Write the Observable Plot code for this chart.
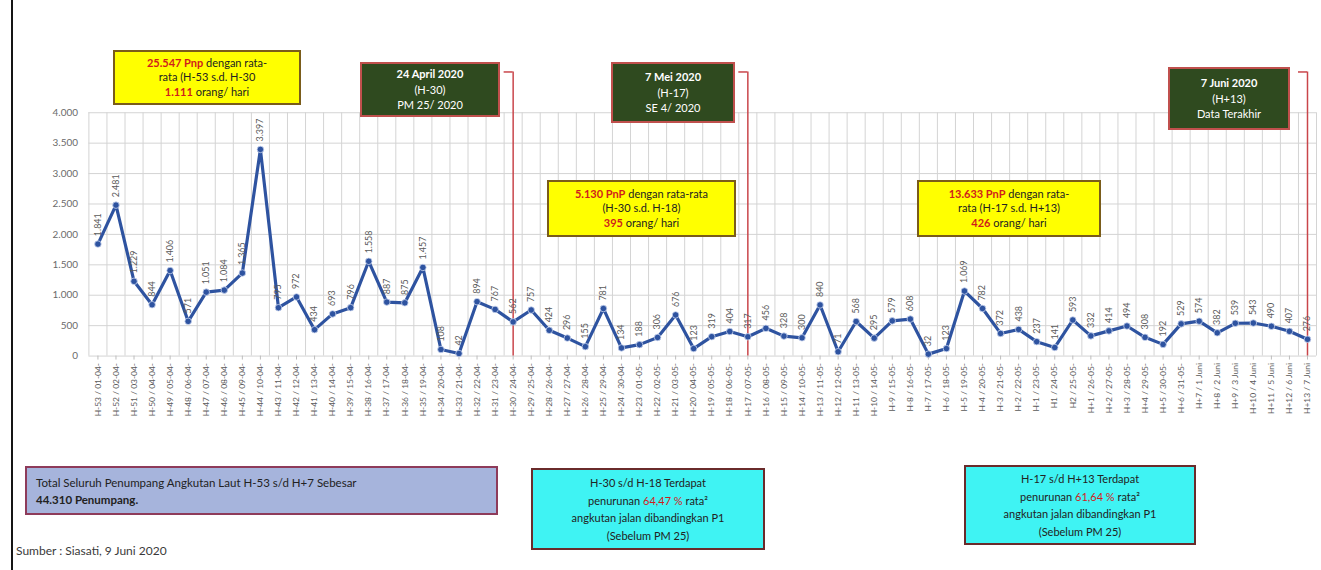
<!DOCTYPE html>
<html>
<head>
<meta charset="utf-8">
<script src="https://cdn.jsdelivr.net/npm/d3@7"></script>
<script src="https://cdn.jsdelivr.net/npm/@observablehq/plot@0.6"></script>
<style>
  html, body { margin: 0; padding: 0; background: #fff; overflow: hidden; }
  #wrap { position: relative; width: 1321px; height: 570px; overflow: hidden; font-family: Lato, "Open Sans", sans-serif; }
  #chart { position: absolute; left: 0; top: 0; }
  .box { position: absolute; box-sizing: border-box; display: flex; flex-direction: column; justify-content: center; align-items: center; text-align: center; }
  .yellow { background: #ffff00; border: 2px solid #7a5c1a; color: #222; font-size: 11px; line-height: 14.5px; }
  .green { background: #2f4a1f; border: 2px solid #c0504d; color: #fff; font-size: 11px; line-height: 15.5px; }
  .cyan { background: #3ff3f3; border: 2px solid #6a2b2b; color: #222; font-size: 11px; line-height: 17.5px; }
  .slate { background: #a6b4dc; border: 2px solid #8e3b5a; color: #222; font-size: 11.5px; line-height: 17px; align-items: flex-start; text-align: left; padding-left: 9px; }
  .red { color: #d01c1c; font-weight: bold; }
  b { font-weight: bold; }
</style>
</head>
<body>
<div id="wrap">
  <div id="chart"></div>
  <div style="position:absolute;left:11px;top:0;width:2px;height:570px;background:#151515"></div>

  <div class="box yellow" style="left:113px;top:50px;width:188px;height:55px">
    <div><span class="red">25.547 Pnp</span> dengan rata-</div>
    <div>rata (H-53 s.d. H-30</div>
    <div><span class="red">1.111</span> orang/ hari</div>
  </div>

  <div class="box green" style="left:360px;top:62px;width:140px;height:55px">
    <div><b>24 April 2020</b></div><div>(H-30)</div><div>PM 25/ 2020</div>
  </div>
  <div class="box green" style="left:611px;top:62px;width:124px;height:61px">
    <div><b>7 Mei 2020</b></div><div>(H-17)</div><div>SE 4/ 2020</div>
  </div>
  <div class="box green" style="left:1168px;top:67px;width:122px;height:63px">
    <div><b>7 Juni 2020</b></div><div>(H+13)</div><div>Data Terakhir</div>
  </div>

  <div class="box yellow" style="left:547px;top:180px;width:189px;height:57px">
    <div><span class="red">5.130 PnP</span> dengan rata-rata</div>
    <div>(H-30 s.d. H-18)</div>
    <div><span class="red">395</span> orang/ hari</div>
  </div>
  <div class="box yellow" style="left:917px;top:180px;width:184px;height:57px">
    <div><span class="red">13.633 PnP</span> dengan rata-</div>
    <div>rata (H-17 s.d. H+13)</div>
    <div><span class="red">426</span> orang/ hari</div>
  </div>

  <div class="box slate" style="left:25px;top:466px;width:473px;height:49px">
    <div>Total Seluruh Penumpang Angkutan Laut H-53 s/d H+7 Sebesar</div>
    <div><b>44.310 Penumpang.</b></div>
  </div>

  <div class="box cyan" style="left:531px;top:468px;width:234px;height:82px">
    <div>H-30 s/d H-18 Terdapat</div>
    <div>penurunan <span class="red" style="font-weight:normal">64,47 %</span> rata²</div>
    <div>angkutan jalan dibandingkan P1</div>
    <div>(Sebelum PM 25)</div>
  </div>
  <div class="box cyan" style="left:964px;top:465px;width:232px;height:80px">
    <div>H-17 s/d H+13 Terdapat</div>
    <div>penurunan <span class="red" style="font-weight:normal">61,64 %</span> rata²</div>
    <div>angkutan jalan dibandingkan P1</div>
    <div>(Sebelum PM 25)</div>
  </div>

  <div style="position:absolute;left:16px;top:543px;font-size:12px;color:#3a3a3a">Sumber : Siasati, 9 Juni 2020</div>
</div>

<script>
// ---- data ----
const dayLabels = [
  "H-53 / 01-04-", "H-52 / 02-04-", "H-51 / 03-04-", "H-50 / 04-04-", "H-49 / 05-04-",
  "H-48 / 06-04-", "H-47 / 07-04-", "H-46 / 08-04-", "H-45 / 09-04-", "H-44 / 10-04-",
  "H-43 / 11-04-", "H-42 / 12-04-", "H-41 / 13-04-", "H-40 / 14-04-", "H-39 / 15-04-",
  "H-38 / 16-04-", "H-37 / 17-04-", "H-36 / 18-04-", "H-35 / 19-04-", "H-34 / 20-04-",
  "H-33 / 21-04-", "H-32 / 22-04-", "H-31 / 23-04-", "H-30 / 24-04-", "H-29 / 25-04-",
  "H-28 / 26-04-", "H-27 / 27-04-", "H-26 / 28-04-", "H-25 / 29-04-", "H-24 / 30-04-",
  "H-23 / 01-05-", "H-22 / 02-05-", "H-21 / 03-05-", "H-20 / 04-05-", "H-19 / 05-05-",
  "H-18 / 06-05-", "H-17 / 07-05-", "H-16 / 08-05-", "H-15 / 09-05-", "H-14 / 10-05-",
  "H-13 / 11-05-", "H-12 / 12-05-", "H-11 / 13-05-", "H-10 / 14-05-", "H-9 / 15-05-",
  "H-8 / 16-05-", "H-7 / 17-05-", "H-6 / 18-05-", "H-5 / 19-05-", "H-4 / 20-05-",
  "H-3 / 21-05-", "H-2 / 22-05-", "H-1 / 23-05-", "H1 / 24-05-", "H2 / 25-05-",
  "H+1 / 26-05-", "H+2 / 27-05-", "H+3 / 28-05-", "H+4 / 29-05-", "H+5 / 30-05-",
  "H+6 / 31-05-", "H+7 / 1 Juni", "H+8 / 2 Juni", "H+9 / 3 Juni", "H+10 / 4 Juni",
  "H+11 / 5 Juni", "H+12 / 6 Juni", "H+13 / 7 Juni"
];
const passengers = [
  1841, 2481, 1229, 844, 1406, 571, 1051, 1084, 1365, 3397,
  795, 972, 434, 693, 796, 1558, 887, 875, 1457, 108,
  42, 894, 767, 562, 757, 424, 296, 155, 781, 134,
  188, 306, 676, 123, 319, 404, 317, 456, 328, 300,
  840, 71, 568, 295, 579, 608, 32, 123, 1069, 782,
  372, 438, 237, 141, 593, 332, 414, 494, 308, 192,
  529, 574, 382, 539, 543, 490, 407, 276
];
const yTicks = [0, 500, 1000, 1500, 2000, 2500, 3000, 3500, 4000];
const markerDays = ["H-30 / 24-04-", "H-17 / 07-05-", "H+13 / 7 Juni"];

// ---- build ----
const idFmt = d => d3.format(",")(d).replace(/,/g, ".");
const rows = passengers.map((v, i) => ({i, v, label: idFmt(v)}));
const idx = rows.map(d => d.i);
const gridXs = [-0.5, ...idx.map(i => i + 0.5)];
const markers = markerDays.map(l => dayLabels.indexOf(l));
const markerTop = 4670;

const lineColor = "#2e53a0";
const chart = Plot.plot({
  width: 1330,
  height: 570,
  marginLeft: 89,
  marginRight: 5,
  marginTop: 113,
  marginBottom: 212,
  style: {fontFamily: "Lato, 'Open Sans', sans-serif", background: "transparent", overflow: "visible"},
  x: {domain: [-0.5, passengers.length - 0.5], axis: null},
  y: {domain: [0, 4000], axis: null},
  marks: [
    Plot.ruleX(gridXs, {x: d => d, y1: 0, y2: 4000, stroke: "#d4d4d4", strokeWidth: 1}),
    Plot.ruleY(yTicks, {stroke: "#d4d4d4", strokeWidth: 1}),
    Plot.axisY({ticks: yTicks, tickFormat: idFmt, tickSize: 0, tickPadding: 11, fontSize: 10, color: "#6a6a6a", label: null}),
    Plot.axisX({ticks: idx, tickFormat: i => dayLabels[i], tickRotate: -90, tickSize: 4, tickPadding: 3, fontSize: 8.5, color: "#5a5a5a", stroke: "#bcbcbc", label: null}),
    Plot.ruleX(markers, {x: d => d, y1: 0, y2: markerTop, stroke: "#c9454a", strokeWidth: 1.5}),
    Plot.ruleY(markers, {y: markerTop, x1: d => d - 0.5, x2: d => d, stroke: "#c9454a", strokeWidth: 1.5}),
    Plot.line(rows, {x: "i", y: "v", stroke: lineColor, strokeWidth: 3.2, strokeLinejoin: "round"}),
    Plot.dot(rows, {x: "i", y: "v", r: 3.3, fill: lineColor, stroke: "#c9d4ee", strokeWidth: 0.8}),
    Plot.text(rows, {x: "i", y: "v", text: "label", rotate: -90, textAnchor: "start", dy: -8, fontSize: 9, fill: "#5a5a5a"})
  ]
});
document.getElementById("chart").appendChild(chart);
</script>
</body>
</html>
